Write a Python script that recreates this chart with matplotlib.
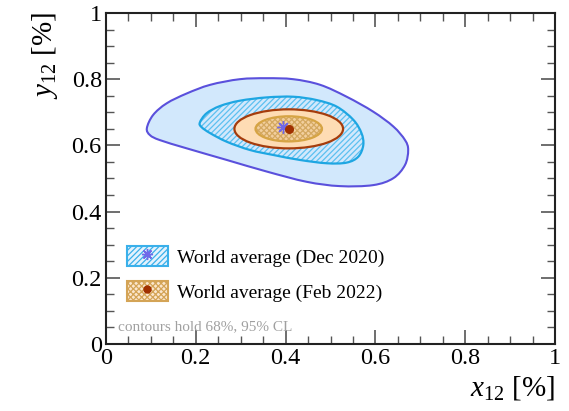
import numpy as np
import matplotlib
matplotlib.use('Agg')
import matplotlib.pyplot as plt
from matplotlib.patches import Ellipse, Patch, PathPatch
from matplotlib.path import Path
from matplotlib.lines import Line2D
from matplotlib.legend_handler import HandlerTuple
from matplotlib.ticker import MultipleLocator

plt.rcParams['font.family'] = ['Liberation Serif', 'DejaVu Serif']
plt.rcParams['mathtext.fontset'] = 'custom'
plt.rcParams['mathtext.rm'] = 'Liberation Serif'
plt.rcParams['mathtext.it'] = 'Liberation Serif:italic'
plt.rcParams['hatch.linewidth'] = 0.9

# ---- data ----
dec20_95_x = [0.091, 0.105, 0.135, 0.180, 0.232, 0.298, 0.358, 0.417, 0.477, 0.536,
              0.595, 0.640, 0.666, 0.673, 0.666, 0.640, 0.595, 0.521, 0.447, 0.358,
              0.269, 0.180, 0.120, 0.098]
dec20_95_y = [0.652, 0.692, 0.727, 0.757, 0.783, 0.800, 0.803, 0.800, 0.783, 0.747,
              0.702, 0.657, 0.616, 0.586, 0.541, 0.501, 0.480, 0.477, 0.490, 0.521,
              0.556, 0.591, 0.616, 0.631]
dec20_68_x = [0.209, 0.224, 0.254, 0.298, 0.358, 0.417, 0.469, 0.514, 0.551, 0.569,
              0.573, 0.562, 0.536, 0.492, 0.432, 0.373, 0.321, 0.269, 0.232, 0.213]
dec20_68_y = [0.669, 0.697, 0.719, 0.735, 0.745, 0.747, 0.737, 0.717, 0.677, 0.637,
              0.601, 0.566, 0.548, 0.546, 0.556, 0.571, 0.586, 0.611, 0.637, 0.655]
dec20_center = (0.394, 0.657)
feb22_center = (0.407, 0.650)
feb22_95_half = (0.121, 0.059)
feb22_68_half = (0.074, 0.038)

xticks = [0, 0.2, 0.4, 0.6, 0.8, 1]
xticklabels = ['0', '0.2', '0.4', '0.6', '0.8', '1']
yticks = [0, 0.2, 0.4, 0.6, 0.8, 1]
yticklabels = ['0', '0.2', '0.4', '0.6', '0.8', '1']
legend_labels = ['World average (Dec 2020)', 'World average (Feb 2022)']
note = 'contours hold 68%, 95% CL'


def smooth_closed_path(xs, ys):
    """Closed cubic Bezier path through the given contour points."""
    P = np.column_stack([xs, ys])
    n = len(P)
    verts = [P[0]]
    codes = [Path.MOVETO]
    for i in range(n):
        p0, p1, p2, p3 = P[i - 1], P[i], P[(i + 1) % n], P[(i + 2) % n]
        c1 = p1 + (p2 - p0) / 6.0
        c2 = p2 - (p3 - p1) / 6.0
        verts += [c1, c2, p2]
        codes += [Path.CURVE4] * 3
    verts.append(P[0])
    codes.append(Path.CLOSEPOLY)
    return Path(verts, codes)


fig = plt.figure(figsize=(5.69, 4.11), dpi=100)
ax = fig.add_axes([106/569, 1-344/411, 449/569, 331/411])
ax.set_xlim(0, 1)
ax.set_ylim(0, 1)

p95 = smooth_closed_path(dec20_95_x, dec20_95_y)
p68 = smooth_closed_path(dec20_68_x, dec20_68_y)
# Dec 2020 95%
ax.add_patch(PathPatch(p95, facecolor='#d2e8fc', edgecolor='#5a50dc', lw=1.5, zorder=1))
# Dec 2020 68% (hatched)
ax.add_patch(PathPatch(p68, facecolor='#d2e8fc', edgecolor='#5cc0f0', hatch='//////',
                       lw=0, zorder=2))
ax.add_patch(PathPatch(p68, facecolor='none', edgecolor='#1ea6e2', lw=1.6, zorder=3))
# Feb 2022 95%
ax.add_patch(Ellipse(feb22_center, 2*feb22_95_half[0], 2*feb22_95_half[1],
                     facecolor='#fedcb4', edgecolor='#a53c0c', lw=1.6, zorder=4))
# Feb 2022 68% (crosshatched)
ax.add_patch(Ellipse(feb22_center, 2*feb22_68_half[0], 2*feb22_68_half[1],
                     facecolor='#f2cf9e', edgecolor='#d4a860', hatch='xxxxxx', lw=0, zorder=5))
ax.add_patch(Ellipse(feb22_center, 2*feb22_68_half[0], 2*feb22_68_half[1],
                     facecolor='none', edgecolor='#d6a444', lw=1.6, zorder=6))

ax.plot([dec20_center[0]], [dec20_center[1]], marker=(8, 2, 0), ms=9, color='#7068e8',
        mew=1.0, ls='none', zorder=7)
ax.plot([feb22_center[0]], [feb22_center[1]], marker='o', ms=5.5, color='#a03000',
        ls='none', zorder=8)

# ticks
ax.set_xticks(xticks)
ax.set_xticklabels(xticklabels)
ax.set_yticks(yticks)
ax.set_yticklabels(yticklabels)
ax.xaxis.set_minor_locator(MultipleLocator(0.05))
ax.yaxis.set_minor_locator(MultipleLocator(0.05))
ax.tick_params(which='both', direction='in', top=True, right=True, color='#555555',
               labelsize=17.5, pad=3)
ax.tick_params(which='major', length=10, width=1.2)
ax.tick_params(which='minor', length=5.5, width=1.0)
for s in ax.spines.values():
    s.set_linewidth(1.5)
    s.set_color('#222222')

fig.text(555/569, 1-388/411, r'$x_{12}$ [%]', ha='right', va='center', fontsize=21)
fig.text(45/569, 1-12/411, r'$y_{12}$ [%]', ha='center', va='top', fontsize=21, rotation=90)

# legend
h1 = (Patch(facecolor='#e4f2fd', edgecolor='#3ab0ea', hatch='//////', lw=1.5),
      Line2D([], [], marker=(8, 2, 0), ms=8, color='#7068e8', ls='none'))
h2 = (Patch(facecolor='#fbe6cc', edgecolor='#d4a456', hatch='xxxxxx', lw=1.5),
      Line2D([], [], marker='o', ms=5, color='#a03000', ls='none'))
leg = ax.legend([h1, h2], legend_labels, handler_map={tuple: HandlerTuple(ndivide=1)},
                loc='upper left', bbox_to_anchor=(21/449, (344-246)/331), frameon=False,
                fontsize=14, handlelength=2.1, handleheight=1.2, handletextpad=0.45,
                labelspacing=0.75, borderaxespad=0, borderpad=0, numpoints=1)

ax.text(0.027, 0.052, note, transform=ax.transAxes, color='#a0a0a0', fontsize=11,
        ha='left', va='center')

fig.savefig('out.png', dpi=100)
